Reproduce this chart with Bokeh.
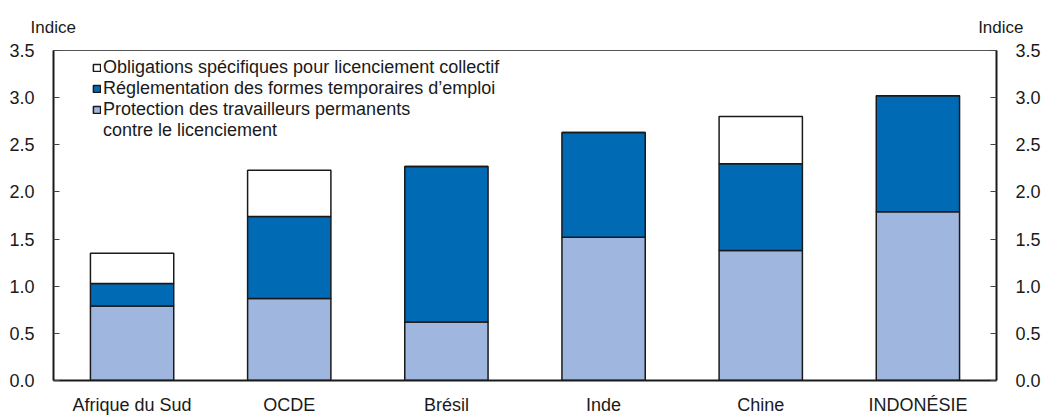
from bokeh.plotting import figure
from bokeh.models import LinearAxis, FixedTicker, Label, Legend, LegendItem, NumeralTickFormatter, Range1d
from bokeh.embed import file_html
from bokeh.resources import INLINE

categories = ["Afrique du Sud", "OCDE", "Brésil", "Inde", "Chine", "INDONÉSIE"]
permanents = [0.79, 0.87, 0.62, 1.52, 1.38, 1.79]
temporaires = [0.24, 0.87, 1.65, 1.11, 0.92, 1.23]
collectif = [0.32, 0.49, 0.0, 0.0, 0.50, 0.0]
series_names = ["Protection des travailleurs permanents",
                "Réglementation des formes temporaires d’emploi",
                "Obligations spécifiques pour licenciement collectif"]
series_name_cont = "contre le licenciement"
y_ticks = [0.0, 0.5, 1.0, 1.5, 2.0, 2.5, 3.0, 3.5]
unit_label = "Indice"

FONT = "Liberation Sans"
FS = "18px"
TXT = "#1a1a1a"

p = figure(x_range=categories, y_range=Range1d(0, 3.5), width=1047, height=417,
           output_backend="svg", toolbar_location=None,
           min_border_left=53, min_border_right=51, min_border_top=50, min_border_bottom=37)

data = dict(cat=categories, perm=permanents, temp=temporaires, coll=collectif)
rs = p.vbar_stack(["perm", "temp", "coll"], x="cat", width=0.53, source=data,
                  color=["#9fb6de", "#006ab5", "#ffffff"],
                  line_color="#1a1a1a", line_width=1.5)

p.xgrid.visible = False
p.ygrid.visible = False
p.outline_line_color = "#555555"
p.outline_line_width = 1

def style_y(ax, standoff):
    ax.ticker = FixedTicker(ticks=y_ticks)
    ax.formatter = NumeralTickFormatter(format="0.0")
    ax.major_tick_in = 6
    ax.major_tick_out = 0
    ax.major_tick_line_color = "#444444"
    ax.minor_tick_line_color = None
    ax.axis_line_width = 2
    ax.axis_line_color = TXT
    ax.major_label_standoff = standoff
    ax.major_label_text_font = FONT
    ax.major_label_text_font_size = FS
    ax.major_label_text_color = TXT

style_y(p.yaxis[0], 19)
ra = LinearAxis()
style_y(ra, 19)
p.add_layout(ra, "right")

xa = p.xaxis[0]
xa.major_tick_line_color = None
xa.minor_tick_line_color = None
xa.axis_line_width = 2
xa.axis_line_color = TXT
xa.major_label_standoff = 8
xa.major_label_text_font = FONT
xa.major_label_text_font_size = FS
xa.major_label_text_color = TXT

for xs, ys, align in [(-23, 23, "left"), (970, 4, "right")]:
    p.add_layout(Label(x=xs, y=ys, x_units="screen", y_units="screen", text=unit_label,
                       text_font=FONT, text_font_size="17px", text_color=TXT,
                       text_align=align, text_baseline="alphabetic"), "above")

legend = Legend(items=[LegendItem(label=series_names[2], renderers=[rs[2]]),
                       LegendItem(label=series_names[1], renderers=[rs[1]]),
                       LegendItem(label=series_names[0], renderers=[rs[0]]),
                       LegendItem(label=series_name_cont, renderers=[])],
                location=(39, 239))
legend.background_fill_alpha = 0
legend.border_line_color = None
legend.glyph_width = 9
legend.glyph_height = 9
legend.label_height = 19
legend.spacing = 0
legend.padding = 0
legend.margin = 0
legend.label_standoff = 2
legend.label_text_font = FONT
legend.label_text_font_size = FS
legend.label_text_color = TXT
p.add_layout(legend)

open("out.html", "w").write(file_html(p, INLINE))
